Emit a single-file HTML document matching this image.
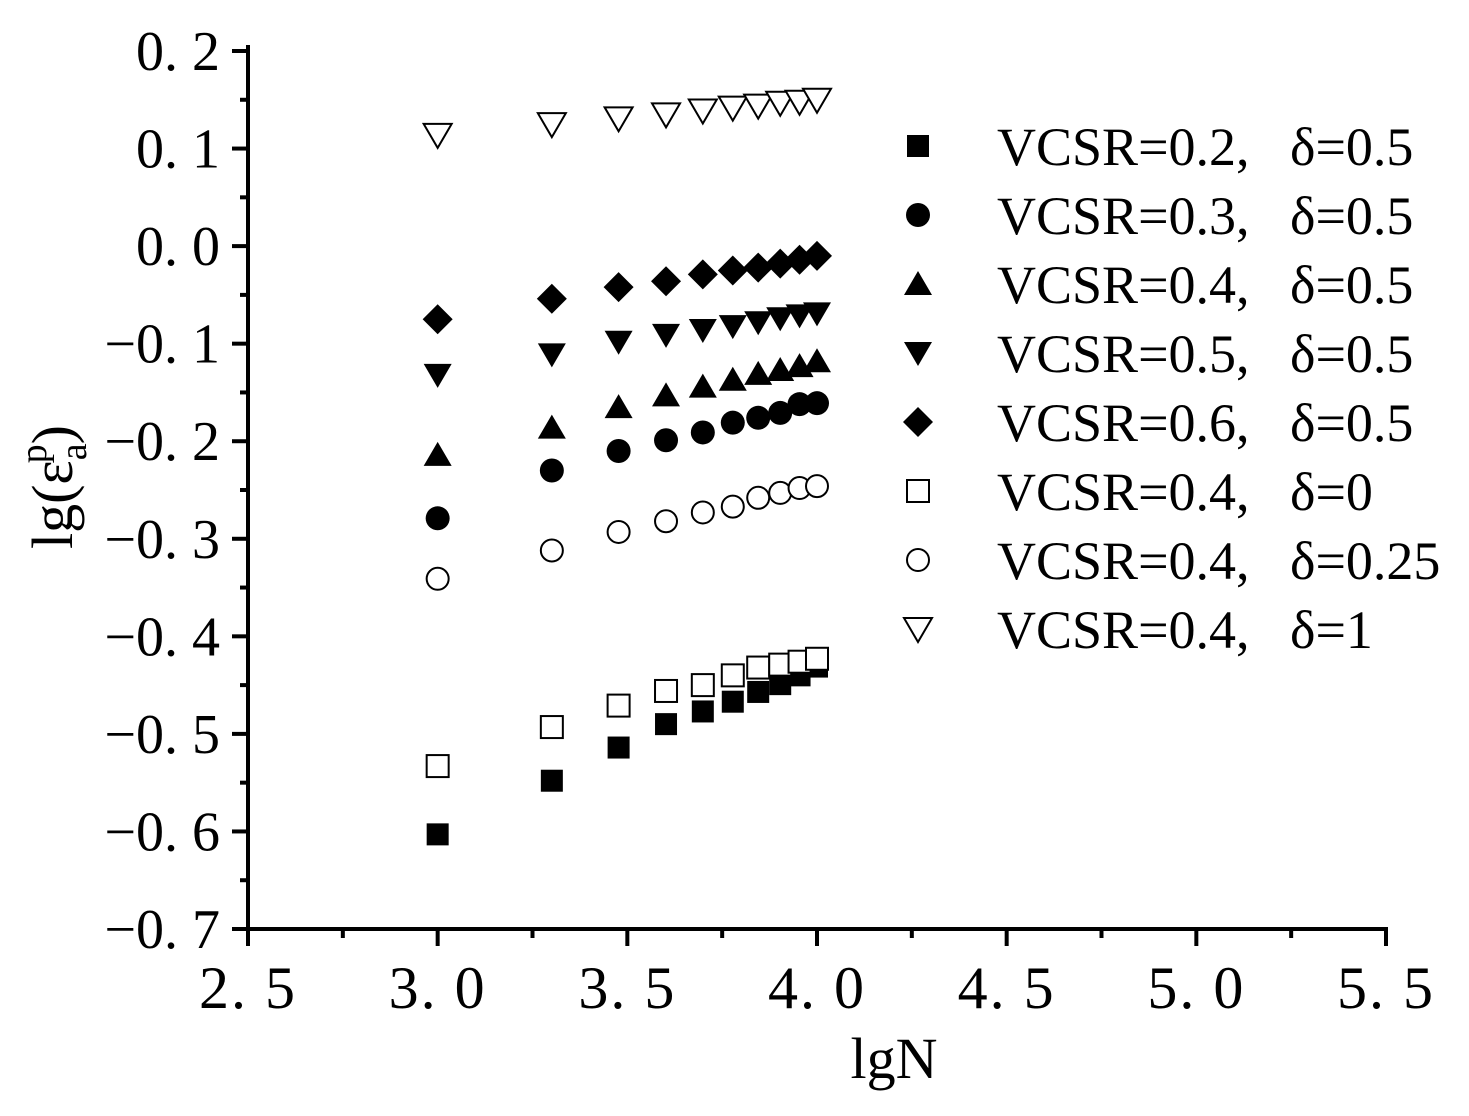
<!DOCTYPE html>
<html><head><meta charset="utf-8"><style>
body{margin:0;background:#fff}
svg text{font-family:"Liberation Serif","Noto Serif CJK SC",serif;fill:#000}
</style></head><body>
<svg width="1469" height="1111" xmlns="http://www.w3.org/2000/svg">
<g id="axes"></g>
<g id="marks"></g>
<g id="legend"></g>
<text x="894" y="1078" font-size="58" text-anchor="middle">lgN</text>
<text transform="translate(72,487) rotate(-90)" font-size="58" text-anchor="middle">lg(ε<tspan font-size="38" dy="14">a</tspan><tspan font-size="38" dx="-20" dy="-40">p</tspan><tspan dy="26">)</tspan></text>
</svg>
<script>
const xValues=[3.0,3.301,3.477,3.602,3.699,3.778,3.845,3.903,3.954,4.0];
const xTicks=[2.5,3.0,3.5,4.0,4.5,5.0,5.5];
const xTickLabels=["2. 5","3. 0","3. 5","4. 0","4. 5","5. 0","5. 5"];
const yTicks=[0.2,0.1,0.0,-0.1,-0.2,-0.3,-0.4,-0.5,-0.6,-0.7];
const yTickLabels=["0. 2","0. 1","0. 0","−0. 1","−0. 2","−0. 3","−0. 4","−0. 5","−0. 6","−0. 7"];
const seriesVcsr=["VCSR=0.2,","VCSR=0.3,","VCSR=0.4,","VCSR=0.5,","VCSR=0.6,","VCSR=0.4,","VCSR=0.4,","VCSR=0.4,"];
const seriesDelta=["δ=0.5","δ=0.5","δ=0.5","δ=0.5","δ=0.5","δ=0","δ=0.25","δ=1"];
const seriesShapes=["fsquare","fcircle","ftri","fdown","fdiamond","osquare","ocircle","odown"];
const s02=[-0.603,-0.548,-0.514,-0.49,-0.477,-0.467,-0.457,-0.449,-0.44,-0.431];
const s03=[-0.279,-0.23,-0.21,-0.199,-0.191,-0.181,-0.176,-0.171,-0.162,-0.161];
const s04=[-0.214,-0.186,-0.165,-0.153,-0.144,-0.137,-0.131,-0.127,-0.123,-0.118];
const s05=[-0.132,-0.111,-0.098,-0.091,-0.086,-0.082,-0.078,-0.074,-0.071,-0.069];
const s06=[-0.075,-0.054,-0.042,-0.036,-0.029,-0.025,-0.022,-0.018,-0.014,-0.01];
const d0=[-0.533,-0.493,-0.471,-0.456,-0.45,-0.44,-0.432,-0.429,-0.426,-0.423];
const d025=[-0.341,-0.312,-0.293,-0.282,-0.273,-0.267,-0.258,-0.253,-0.248,-0.246];
const d1=[0.114,0.125,0.131,0.135,0.139,0.142,0.144,0.147,0.148,0.15];
const allSeries=[s02,s03,s04,s05,s06,d0,d025,d1];

const NS="http://www.w3.org/2000/svg";
const X=v=>248+(v-2.5)*(1386-248)/3;
const Y=v=>929-(v+0.7)*(929-51)/0.9;
function mk(tag,attrs,parent){const e=document.createElementNS(NS,tag);for(const k in attrs)e.setAttribute(k,attrs[k]);parent.appendChild(e);return e;}
const axes=document.getElementById('axes');
let l=mk('line',{x1:248,y1:45,x2:248,y2:931,stroke:'#000','stroke-width':4},axes);


l=mk('line',{x1:232,y1:929,x2:1388,y2:929,stroke:'#000','stroke-width':4},axes);


for(let i=0;i<xTicks.length;i++){
  const x=X(xTicks[i]);
  let t=mk('line',{x1:x,y1:929,x2:x,y2:946,stroke:'#000','stroke-width':4},axes);
  
  
  if(i<xTicks.length-1){const xm=X(xTicks[i]+0.25);
    let m=mk('line',{x1:xm,y1:929,x2:xm,y2:938,stroke:'#000','stroke-width':4},axes);
    
    }
  const tx=mk('text',{x:x,y:1008,'font-size':60,'text-anchor':'middle','letter-spacing':2},axes);
  tx.textContent=xTickLabels[i];
  
  
}
for(let i=0;i<yTicks.length;i++){
  const y=Y(yTicks[i]);
  let t=mk('line',{x1:232,y1:y,x2:248,y2:y,stroke:'#000','stroke-width':4},axes);
  
  
  if(i<yTicks.length-1){const ym=Y(yTicks[i]-0.05);
    let m=mk('line',{x1:240,y1:ym,x2:248,y2:ym,stroke:'#000','stroke-width':4},axes);
    
    }
  const tx=mk('text',{x:220,y:y+19,'font-size':56,'text-anchor':'end'},axes);
  tx.textContent=yTickLabels[i];
  
  
}
function marker(shape,cx,cy,parent){
  const filled=shape[0]==='f';const f=filled?'#000':'#fff';const sw=filled?0:2;
  const k=shape.slice(1);let e;
  if(k==='square')e=mk('rect',{x:cx-11,y:cy-11,width:22,height:22,fill:f,stroke:'#000','stroke-width':sw},parent);
  else if(k==='circle')e=mk('circle',{cx:cx,cy:cy,r:filled?12:11,fill:f,stroke:'#000','stroke-width':sw},parent);
  else if(k==='tri')e=mk('polygon',{points:`${cx},${cy-13} ${cx+14},${cy+11} ${cx-14},${cy+11}`,fill:f,stroke:'#000','stroke-width':sw},parent);
  else if(k==='down')e=mk('polygon',{points:`${cx-14},${cy-11} ${cx+14},${cy-11} ${cx},${cy+13}`,fill:f,stroke:'#000','stroke-width':sw},parent);
  else e=mk('polygon',{points:`${cx},${cy-15} ${cx+15},${cy} ${cx},${cy+15} ${cx-15},${cy}`,fill:f,stroke:'#000','stroke-width':sw},parent);
  return e;
}
const marks=document.getElementById('marks');
allSeries.forEach((s,si)=>{
  s.forEach((v,i)=>{
    const e=marker(seriesShapes[si],X(xValues[i]),Y(v),marks);
    
    
  });
});
const lg=document.getElementById('legend');
seriesVcsr.forEach((n,i)=>{
  const y=146+i*69;
  const e=marker(seriesShapes[i],918,y,lg);
  
  
  const t=mk('text',{x:997,y:y+19,'font-size':54},lg);
  t.textContent=n;
  
  
  const t2=mk('text',{x:1290,y:y+19,'font-size':54},lg);
  t2.textContent=seriesDelta[i];
  
  
});
</script>
</body></html>
